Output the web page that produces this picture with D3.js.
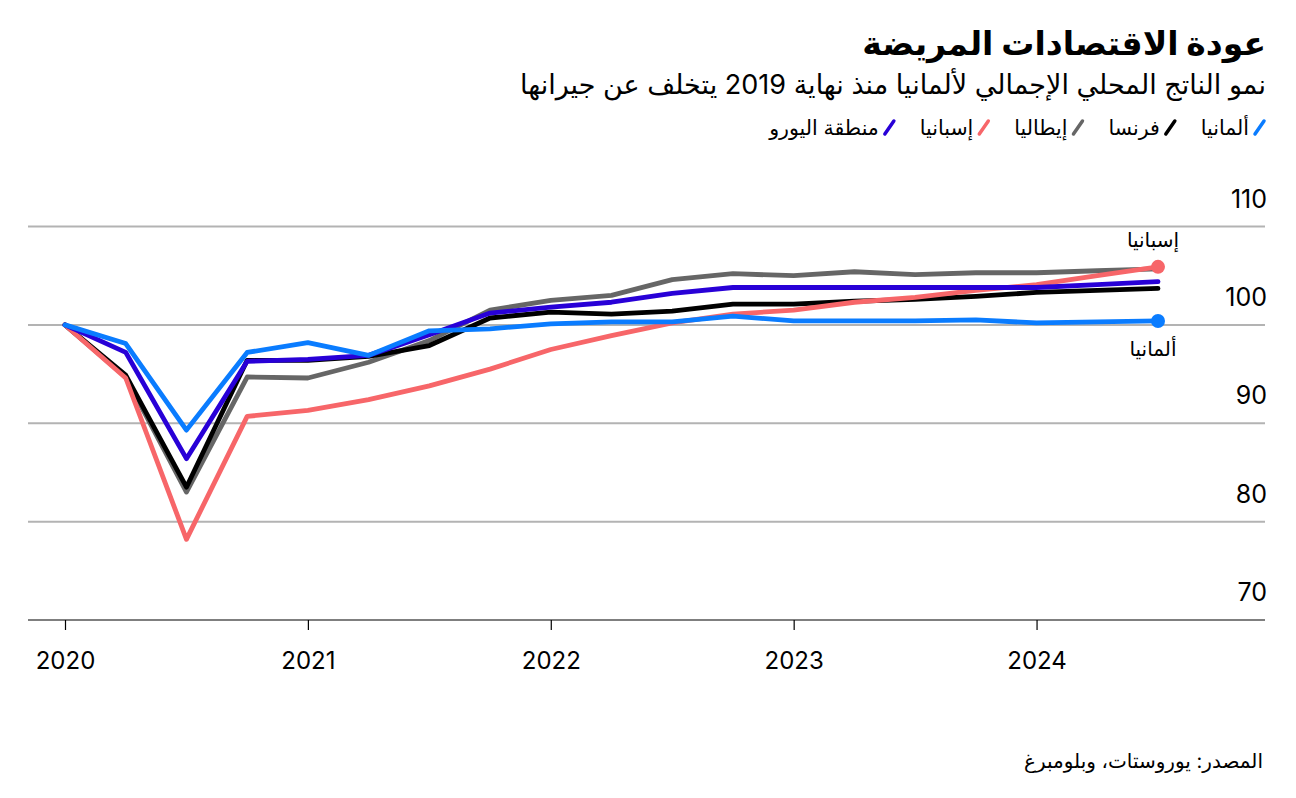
<!DOCTYPE html>
<html><head><meta charset="utf-8">
<script src="https://cdn.jsdelivr.net/npm/d3@7"></script>
<style>
body{margin:0;background:#fff;}
svg{font-family:Inter,"DejaVu Sans",sans-serif;}
</style></head>
<body>
<svg id="chart" width="1296" height="798"></svg>
<script>
const title = "عودة الاقتصادات المريضة";
const subtitle = "نمو الناتج المحلي الإجمالي لألمانيا منذ نهاية 2019 يتخلف عن جيرانها";
const source = "المصدر: يوروستات، وبلومبرغ";
// quarterly index, Q4 2019 = 100
const quarters = [2020.0,2020.25,2020.5,2020.75,2021.0,2021.25,2021.5,2021.75,2022.0,2022.25,2022.5,2022.75,2023.0,2023.25,2023.5,2023.75,2024.0,2024.25,2024.5];
const germany  = [100,98.1,89.3,97.2,98.2,96.9,99.4,99.6,100.1,100.3,100.3,100.9,100.4,100.4,100.4,100.5,100.2,100.3,100.4];
const france   = [100,94.9,83.5,96.4,96.4,96.8,97.9,100.7,101.3,101.1,101.4,102.1,102.1,102.4,102.6,102.9,103.3,103.5,103.7];
const italy    = [100,94.7,83.0,94.7,94.6,96.2,98.4,101.5,102.5,103.0,104.6,105.2,105.0,105.4,105.1,105.3,105.3,105.5,105.7];
const spain    = [100,94.6,78.2,90.7,91.3,92.4,93.8,95.5,97.5,98.9,100.2,101.1,101.5,102.3,102.8,103.5,104.1,105.0,105.9];
const eurozone = [100,97.2,86.4,96.3,96.5,96.9,99.0,101.2,101.8,102.3,103.2,103.8,103.8,103.8,103.8,103.8,103.8,104.1,104.4];
const yTicks = [70,80,90,100,110];
const xTicks = [2020,2021,2022,2023,2024];

const seriesNames = ["ألمانيا","فرنسا","إيطاليا","إسبانيا","منطقة اليورو"];
const seriesColors = ["#0a7cff","#000000","#666666","#f76669","#2800d7"];
const seriesData = [germany,france,italy,spain,eurozone];

const svg = d3.select("#chart");
const x = d3.scaleLinear().domain([2020,2024.5]).range([65,1158]);
const y = d3.scaleLinear().domain([70,110]).range([620,226.5]);
const left = 28, right = 1265;

// Title (rtl: text-anchor start = right edge)
svg.append("text").attr("x",1266).attr("y",55).attr("text-anchor","start")
  .attr("direction","rtl").attr("font-size",33).attr("font-weight","bold").attr("fill","#000").text(title);
svg.append("text").attr("x",1266).attr("y",94).attr("text-anchor","start")
  .attr("direction","rtl").attr("font-size",27).attr("fill","#000").text(subtitle);

// Legend (RTL)
let lx = 1266;
const lg = svg.append("g");
seriesNames.forEach((n,i)=>{
  lg.append("line").attr("x1",lx-11).attr("y1",134).attr("x2",lx-2).attr("y2",121)
    .attr("stroke",seriesColors[i]).attr("stroke-width",3.5).attr("stroke-linecap","round");
  const t = lg.append("text").attr("x",lx-17).attr("y",135).attr("text-anchor","start")
    .attr("direction","rtl").attr("font-size",20.5).attr("fill","#000").text(n);
  const w = t.node().getComputedTextLength();
  lx = lx - 17 - w - 24;
});

// Grid
svg.append("g").selectAll("line").data(yTicks.filter(d=>d>70)).join("line")
  .attr("x1",left).attr("x2",right).attr("y1",d=>y(d)).attr("y2",d=>y(d))
  .attr("stroke","#b3b3b3").attr("stroke-width",2);
svg.append("g").selectAll("text").data(yTicks).join("text")
  .attr("x",1267).attr("y",d=>y(d)-19).attr("text-anchor","end")
  .attr("font-size",25).attr("fill","#000").text(d=>d);

// X axis
const xAxis = d3.axisBottom(x).tickValues(xTicks).tickFormat(d3.format("d")).tickSize(10).tickPadding(22);
const xg = svg.append("g").attr("transform",`translate(0,${y(70)})`).call(xAxis);
xg.select(".domain").remove();
xg.selectAll(".tick line").attr("stroke","#000").attr("stroke-width",1.2);
xg.selectAll(".tick text").attr("font-size",24).attr("fill","#000").attr("font-family",'Inter,"DejaVu Sans",sans-serif');
svg.append("line").attr("x1",left).attr("x2",right).attr("y1",y(70)).attr("y2",y(70))
  .attr("stroke","#000").attr("stroke-width",1.2);

// Lines
const line = d3.line().x((d,i)=>x(quarters[i])).y(d=>y(d));
const order = [2,1,3,4,0];
order.forEach(i=>{
  svg.append("path").datum(seriesData[i]).attr("d",line)
    .attr("fill","none").attr("stroke",seriesColors[i]).attr("stroke-width",4.8)
    .attr("stroke-linejoin","round").attr("stroke-linecap","round");
});

// End dots and labels
const last = quarters.length-1;
[[3,-20],[0,35]].forEach(([i,dy])=>{
  svg.append("circle").attr("cx",x(quarters[last])).attr("cy",y(seriesData[i][last])).attr("r",7)
    .attr("fill",seriesColors[i]);
  svg.append("text").attr("x",x(quarters[last])-5).attr("y",y(seriesData[i][last])+dy)
    .attr("text-anchor","middle").attr("direction","rtl").attr("font-size",20).attr("fill","#000")
    .text(seriesNames[i]);
});

// Source
svg.append("text").attr("x",1263).attr("y",768).attr("text-anchor","start").attr("direction","rtl")
  .attr("font-size",20).attr("fill","#000").text(source);
</script>
</body></html>
